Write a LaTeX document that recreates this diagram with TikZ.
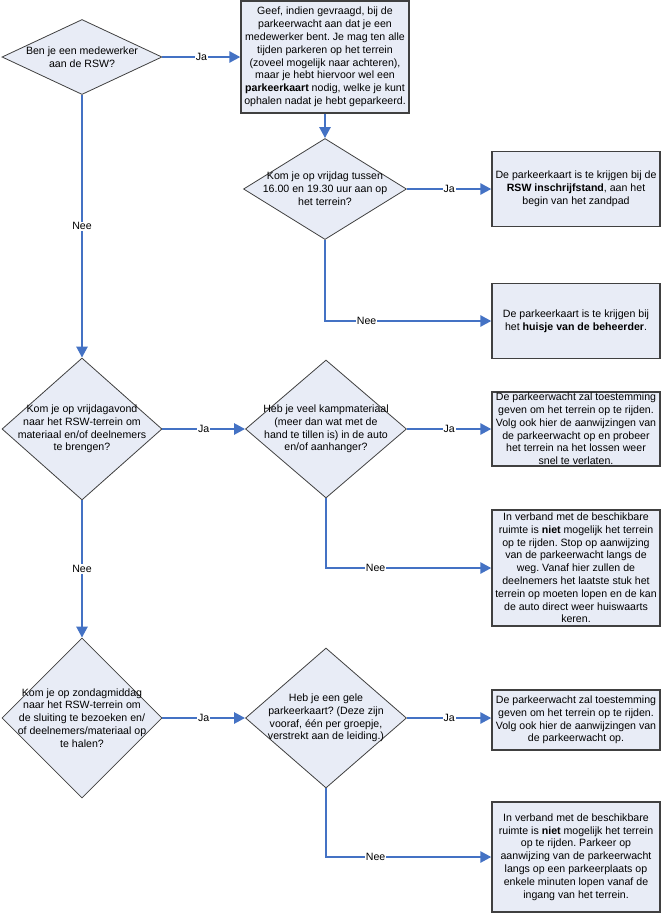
\documentclass[tikz,border=0pt]{standalone}
\usepackage{fontspec}
\setmainfont{Liberation Sans}
\usetikzlibrary{arrows.meta,shapes.geometric}
\definecolor{shapefill}{RGB}{232,236,246}
\definecolor{edgegray}{RGB}{64,64,64}
\definecolor{flowblue}{RGB}{68,114,196}
\newcommand{\chartfont}{\frenchspacing\fontsize{10.6pt}{12.8pt}\selectfont}

\begin{document}
\begin{tikzpicture}[x=1pt,y=-1pt,
  ques/.style={diamond,draw=edgegray,line width=0.8pt,fill=shapefill,inner sep=0pt},
  qtext/.style={align=center,inner sep=0pt,font=\chartfont},
  info/.style={rectangle,draw=edgegray,line width=1.3pt,fill=shapefill,inner sep=0pt,
    minimum width=168pt,align=center,font=\chartfont},
  flow/.style={draw=flowblue,line width=2.5pt,-{Triangle[length=11pt,width=11pt]}},
  lab/.style={fill=white,inner sep=1pt,font=\chartfont}]
  \useasboundingbox (0,0) rectangle (663,914);
  % employees
  \node[ques,minimum width=160pt,minimum height=75pt] (q1) at (82,57) {};
  \node[qtext] (q1t) at (q1) {Ben je een medewerker\\aan de RSW?};
  \node[info,minimum height=112pt] (b1) at (325,57) {Geef, indien gevraagd, bij de\\parkeerwacht aan dat je een\\medewerker bent. Je mag ten alle\\tijden parkeren op het terrein\\(zoveel mogelijk naar achteren),\\maar je hebt hiervoor wel een\\\textbf{parkeerkaart} nodig, welke je kunt\\ophalen nadat je hebt geparkeerd.};
  \node[ques,minimum width=163pt,minimum height=101pt] (q2) at (325,189) {};
  \node[qtext] (q2t) at (q2) {Kom je op vrijdag tussen\\16.00 en 19.30 uur aan op\\het terrein?};
  \node[info,minimum height=75pt] (b2) at (576,189) {De parkeerkaart is te krijgen bij de\\\textbf{RSW inschrijfstand}, aan het\\begin van het zandpad};
  \node[info,minimum height=75pt] (b3) at (576,321) {De parkeerkaart is te krijgen bij\\het \textbf{huisje van de beheerder}.};
  % friday evening
  \node[ques,minimum width=160pt,minimum height=142pt] (q3) at (82,429) {};
  \node[qtext] (q3t) at (q3) {Kom je op vrijdagavond\\naar het RSW-terrein om\\materiaal en/of deelnemers\\te brengen?};
  \node[ques,minimum width=161pt,minimum height=138pt] (q4) at (326,429) {};
  \node[qtext] (q4t) at (q4) {Heb je veel kampmateriaal\\(meer dan wat met de\\hand te tillen is) in de auto\\en/of aanhanger?};
  \node[info,minimum height=74pt] (b4) at (576,429) {De parkeerwacht zal toestemming\\geven om het terrein op te rijden.\\Volg ook hier de aanwijzingen van\\de parkeerwacht op en probeer\\het terrein na het lossen weer\\snel te verlaten.};
  \node[info,minimum height=116pt] (b5) at (576,568) {In verband met de beschikbare\\ruimte is \textbf{niet} mogelijk het terrein\\op te rijden. Stop op aanwijzing\\van de parkeerwacht langs de\\weg. Vanaf hier zullen de\\deelnemers het laatste stuk het\\terrein op moeten lopen en de kan\\de auto direct weer huiswaarts\\keren.};
  % sunday afternoon
  \node[ques,minimum width=160pt,minimum height=160pt] (q5) at (82,718) {};
  \node[qtext] (q5t) at (q5) {Kom je op zondagmiddag\\naar het RSW-terrein om\\de sluiting te bezoeken en/\\of deelnemers/materiaal op\\te halen?};
  \node[ques,minimum width=161pt,minimum height=140pt] (q6) at (326,718) {};
  \node[qtext] (q6t) at (q6) {Heb je een gele\\parkeerkaart? (Deze zijn\\vooraf, één per groepje,\\verstrekt aan de leiding.)};
  \node[info,minimum height=60pt] (b6) at (576,720) {De parkeerwacht zal toestemming\\geven om het terrein op te rijden.\\Volg ook hier de aanwijzingen van\\de parkeerwacht op.};
  \node[info,minimum height=110pt] (b7) at (576,857) {In verband met de beschikbare\\ruimte is \textbf{niet} mogelijk het terrein\\op te rijden. Parkeer op\\aanwijzing van de parkeerwacht\\langs op een parkeerplaats op\\enkele minuten lopen vanaf de\\ingang van het terrein.};
  % connectors
  \draw[flow] (q1) -- node[lab] {Ja} (b1);
  \draw[flow] (b1) -- (q2);
  \draw[flow] (q2) -- node[lab] {Ja} (b2);
  \draw[flow] (q2) |- node[lab,pos=0.625] {Nee} (b3);
  \draw[flow] (q1) -- node[lab] {Nee} (q3);
  \draw[flow] (q3) -- node[lab] {Ja} (q4);
  \draw[flow] (q4) -- node[lab] {Ja} (b4);
  \draw[flow] (q4) |- node[lab,pos=0.65] {Nee} (b5);
  \draw[flow] (q3) -- node[lab] {Nee} (q5);
  \draw[flow] (q5) -- node[lab] {Ja} (q6);
  \draw[flow] (q6) -- node[lab] {Ja} (q6 -| b6.west);
  \draw[flow] (q6) |- node[lab,pos=0.65] {Nee} (b7);
\end{tikzpicture}
\end{document}
